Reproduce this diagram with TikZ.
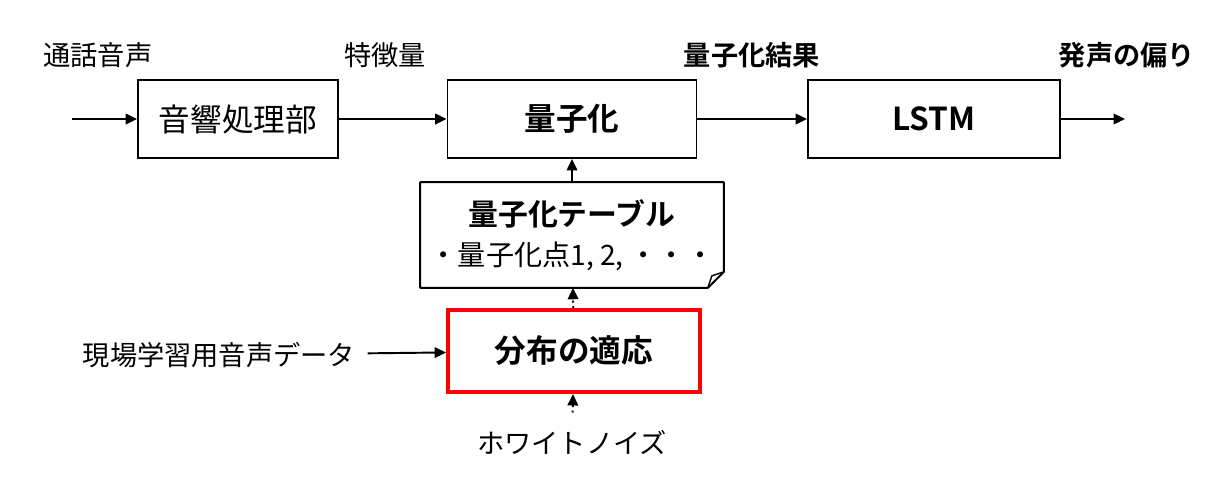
\documentclass[tikz,border=0pt]{standalone}
\usepackage{fontspec}
\setmainfont{Noto Sans CJK JP}[BoldFont={Noto Sans CJK JP Bold}]
\usetikzlibrary{arrows.meta,positioning,calc}

\begin{document}
\begin{tikzpicture}[x=0.02cm,y=-0.02cm,
			blk/.style={rectangle,draw=black,line width=1.1pt,minimum height=1.56cm,inner sep=0pt,font=\fontsize{18}{20}\selectfont},
			lbl/.style={inner sep=0pt,font=\fontsize{15.5}{18}\selectfont},
			flow/.style={line width=1.1pt,-{Triangle[length=6.5pt,width=6pt]}},
			dflow/.style={flow,dotted}]
		\useasboundingbox (0,0) rectangle (1228,498);
		\path 	(238,119) 	node 	(acou) [blk, minimum width=4cm] {音響処理部}
		        (572,119) 	node 	(quant) [blk, minimum width=4.98cm, font=\fontsize{18}{20}\selectfont\bfseries] {量子化}
		        (934,119) 	node 	(lstm) [blk, minimum width=5.04cm, font=\fontsize{18}{20}\selectfont\bfseries] {LSTM}
		        (572,235) 	node 	(table) [minimum width=6.06cm, minimum height=2.1cm, inner sep=0pt, align=center, font=\fontsize{16}{23}\selectfont]
		                {{\bfseries\fontsize{17}{23}\selectfont 量子化テーブル}\\ ・量子化点1, 2, ・・・}
		        (574,351) 	node 	(adapt) [blk, draw=red, line width=2.3pt, minimum width=5.04cm, minimum height=1.64cm, font=\fontsize{18}{20}\selectfont\bfseries] {分布の適応}
		        (98,55) 	node 	(callin) [lbl] {通話音声}
		        (385,55) 	node 	(feat) [lbl] {特徴量}
		        (752,55) 	node 	(qres) [lbl, font=\fontsize{15.5}{18}\selectfont\bfseries] {量子化結果}
		        (1127,55) 	node 	(bias) [lbl, font=\fontsize{15.5}{18}\selectfont\bfseries] {発声の偏り}
		        (219,355) 	node 	(field) [lbl] {現場学習用音声データ}
		        (572,443) 	node 	(noise) [lbl] {ホワイトノイズ};
		\coordinate (inpt) at (72,119);
		\coordinate (outpt) at (1125,119);
		% table outline with folded corner
		\draw [line width=1.1pt, line join=round] (table.north west) -- (table.north east) -- ($(table.south east)+(0,-16)$)
		        -- ($(table.south east)+(-16,0)$) -- (table.south west) -- cycle;
		\draw [line width=0.8pt, line join=round] ($(table.south east)+(-16,0)$) -- ($(table.south east)+(-12,-12)$) -- ($(table.south east)+(0,-16)$);
		\draw [flow] (inpt) -- (acou);
		\draw [flow] (acou) -- (quant);
		\draw [flow] (quant) -- (lstm);
		\draw [flow] (lstm) -- (outpt);
		\draw [flow] (table) -- (quant);
		\draw [dflow] (adapt) -- (table);
		\draw [dflow, shorten <=0.36cm] (noise) -- (adapt);
		\draw [flow, shorten <=0.24cm] (field) -- (adapt);
	\end{tikzpicture}
\end{document}
